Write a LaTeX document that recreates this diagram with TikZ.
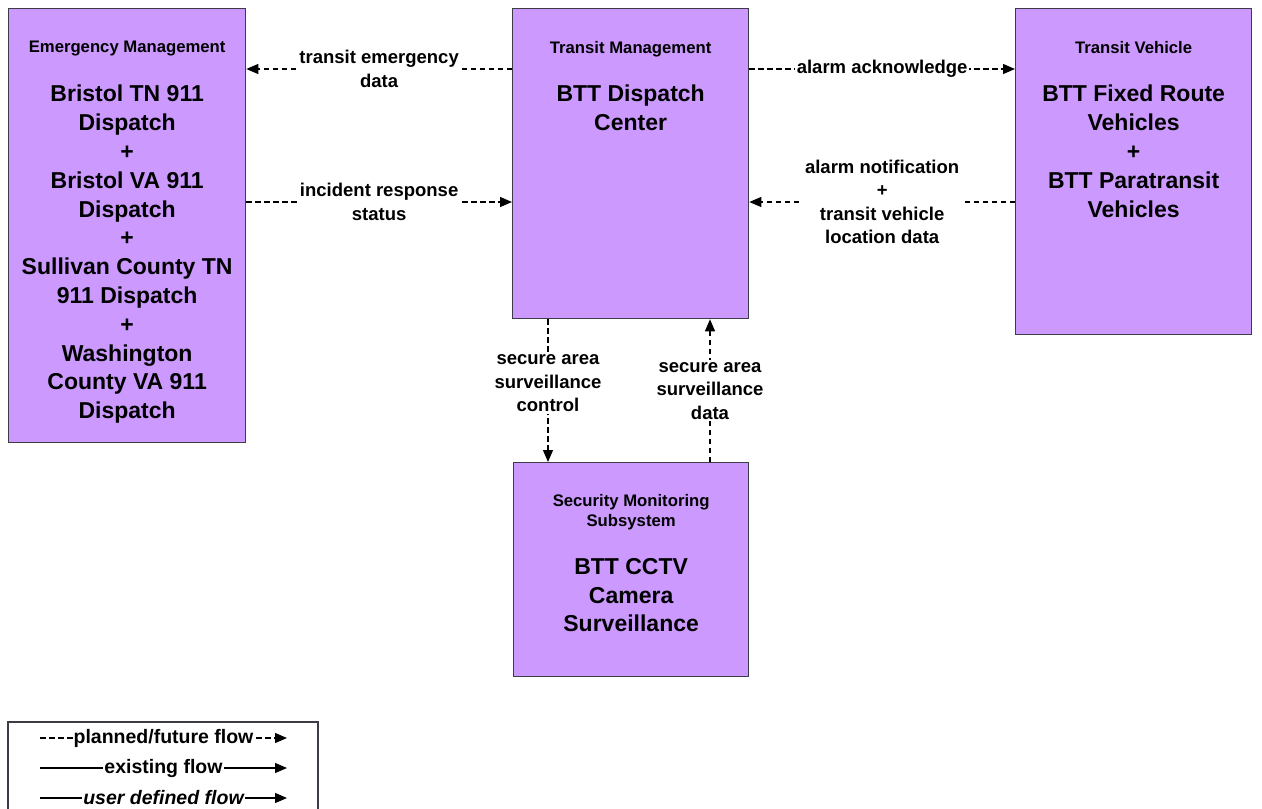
\documentclass[tikz,border=0pt]{standalone}
\usepackage{fontspec}
\setmainfont{Liberation Sans}
\usetikzlibrary{arrows.meta,positioning}
\definecolor{boxviolet}{RGB}{204,153,255}
\definecolor{boxedge}{RGB}{60,60,70}

\begin{document}
\begin{tikzpicture}[x=1pt,y=-1pt,
  sysbox/.style={draw=boxedge,line width=1.3pt,fill=boxviolet,anchor=north west,inner sep=0pt},
  sysname/.style={font=\fontsize{16.7}{20}\selectfont\bfseries,align=center,inner sep=0pt},
  sysbody/.style={font=\fontsize{23}{28.8}\selectfont\bfseries,align=center,inner sep=0pt},
  flowlabel/.style={font=\fontsize{18.5}{23.5}\selectfont\bfseries,align=center,fill=white,inner sep=2pt},
  keylabel/.style={flowlabel,font=\fontsize{19.5}{23.5}\selectfont\bfseries,inner sep=1pt},
  planned/.style={line width=1.2pt,dash pattern=on 5.5pt off 3.5pt,-{Triangle[length=12pt,width=10pt]}},
  existing/.style={line width=1.2pt,-{Triangle[length=12pt,width=10pt]}}]
\useasboundingbox (0,0) rectangle (1262,809);

% subsystems
\node[sysbox,minimum width=237pt,minimum height=434pt] (em) at (8,8) {};
\node[sysbox,minimum width=236pt,minimum height=310pt] (tm) at (512,8) {};
\node[sysbox,minimum width=236pt,minimum height=326pt] (tv) at (1015,8) {};
\node[sysbox,minimum width=235pt,minimum height=214pt] (sm) at (513,462) {};

\node[sysname,below=33pt of em.north] (emname) {Emergency Management};
\node[sysbody,below=77pt of em.north] (embody) {Bristol TN 911\\Dispatch\\+\\Bristol VA 911\\Dispatch\\+\\Sullivan County TN\\911 Dispatch\\+\\Washington\\County VA 911\\Dispatch};
\node[sysname,below=33pt of tm.north] (tmname) {Transit Management};
\node[sysbody,below=77pt of tm.north] (tmbody) {BTT Dispatch\\Center};
\node[sysname,below=33pt of tv.north] (tvname) {Transit Vehicle};
\node[sysbody,below=77pt of tv.north] (tvbody) {BTT Fixed Route\\Vehicles\\+\\BTT Paratransit\\Vehicles};
\node[sysname,below=32pt of sm.north] (smname) {Security Monitoring\\Subsystem};
\node[sysbody,below=96pt of sm.north] (smbody) {BTT CCTV\\Camera\\Surveillance};

% flows
\coordinate (row1) at (0,69);
\coordinate (row2) at (0,202);
\coordinate (col1) at (548,0);
\coordinate (col2) at (710,0);

\draw[planned] (tm.west |- row1) -- node[flowlabel] (f1) {transit emergency\\data} (em.east |- row1);
\draw[planned] (em.east |- row2) -- node[flowlabel] (f2) {incident response\\status} (tm.west |- row2);
\draw[planned] (tm.east |- row1) -- node[flowlabel] (f3) {alarm acknowledge} (tv.west |- row1);
\draw[planned] (tv.west |- row2) -- node[flowlabel] (f4) {alarm notification\\+\\transit vehicle\\location data} (tm.east |- row2);
\draw[planned] (tm.south -| col1) -- node[flowlabel,pos=0.45] (f5) {secure area\\surveillance\\control} (sm.north -| col1);
\draw[planned] (sm.north -| col2) -- node[flowlabel] (f6) {secure area\\surveillance\\data} (tm.south -| col2);

% legend
\draw[draw=boxedge,line width=1.1pt] (8,812) -- (8,722) -- (318,722) -- (318,812);
\coordinate (k1a) at (40,738); \coordinate (k1b) at (287,738);
\coordinate (k2a) at (40,768); \coordinate (k2b) at (287,768);
\coordinate (k3a) at (40,798); \coordinate (k3b) at (287,798);
\draw[planned] (k1a) -- node[keylabel] (k1) {planned/future flow} (k1b);
\draw[existing] (k2a) -- node[keylabel] (k2) {existing flow} (k2b);
\draw[existing] (k3a) -- node[keylabel,font=\fontsize{19.5}{23.5}\selectfont\bfseries\itshape] (k3) {user defined flow} (k3b);
\end{tikzpicture}
\end{document}
